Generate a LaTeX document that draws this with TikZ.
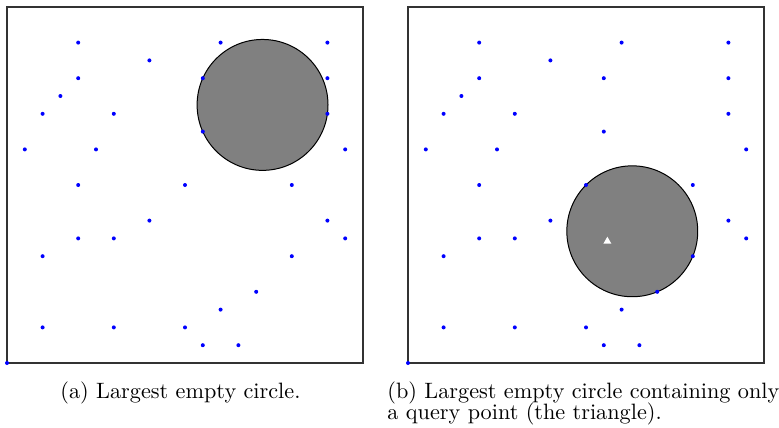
\documentclass[tikz,border=0pt]{standalone}
\begin{document}
\begin{tikzpicture}[x=0.45pt,y=-0.45pt,
  frame/.style={draw=black!80,line width=0.6pt},
  disc/.style={draw=black,line width=0.45pt,fill=black!50},
  pt/.style={circle,fill=blue,inner sep=0pt,minimum size=1.8pt},
  query/.style={fill=white,draw=none},
  captext/.style={inner sep=0pt,font=\fontsize{10}{9.8}\selectfont}]
\useasboundingbox (0,0) rectangle (779,428);
% panel (a)
\draw[frame] (7,7) rectangle (363,363);
\draw[disc] ({7+17.8*14.357},{363-17.8*14.5}) circle ({17.8*3.677});
\foreach \a/\b [count=\i] in {4/18,12/18,18/18,8/17,4/16,11/16,18/16,3/15,2/14,6/14,18/14,11/13,1/12,5/12,19/12,4/10,10/10,16/10,8/8,18/8,4/7,6/7,19/7,2/6,16/6,14/4,12/3,2/2,6/2,10/2,11/1,13/1,0/0}
  \node[pt] (a\i) at ({7+17.8*\a},{363-17.8*\b}) {};
% panel (b)
\draw[frame] (408,7) rectangle (764,363);
\draw[disc] ({408+17.8*12.6},{363-17.8*7.4}) circle ({17.8*3.677});
\foreach \a/\b [count=\i] in {4/18,12/18,18/18,8/17,4/16,11/16,18/16,3/15,2/14,6/14,18/14,11/13,1/12,5/12,19/12,4/10,10/10,16/10,8/8,18/8,4/7,6/7,19/7,2/6,16/6,14/4,12/3,2/2,6/2,10/2,11/1,13/1,0/0}
  \node[pt] (b\i) at ({408+17.8*\a},{363-17.8*\b}) {};
\coordinate (q) at ({408+17.8*11.2},{363-17.8*6.9});
\fill[query] ([shift={(-4,3.5)}]q) -- ([shift={(4,3.5)}]q) -- ([shift={(0,-3.5)}]q) -- cycle;
% captions
\node[captext,anchor=base west] (capa) at (60,398) {(a) Largest empty circle.};
\node[captext,anchor=base west] (capb1) at (387,398) {(b) Largest empty circle containing only};
\node[captext,anchor=base west] (capb2) at (387,419.5) {a query point (the triangle).};
\end{tikzpicture}
\end{document}
